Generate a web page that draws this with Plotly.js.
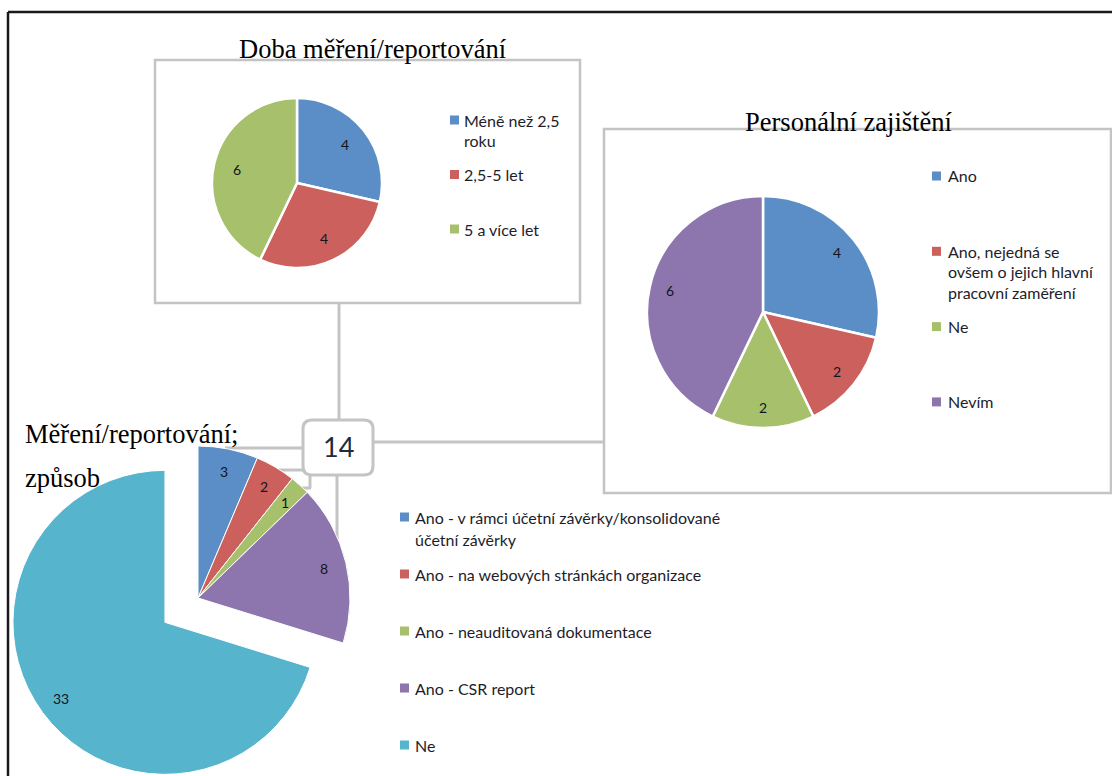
<!DOCTYPE html>
<html>
<head>
<meta charset="utf-8">
<script src="https://cdn.plot.ly/plotly-3.0.1.min.js"></script>
<style>
  html, body { margin: 0; padding: 0; background: #ffffff; overflow: hidden; }
  #chart { width: 1112px; height: 800px; }
</style>
</head>
<body>
<div id="chart"></div>
<script>
// Doba měření/reportování
const durationLabels = ['Méně než 2,5<br>roku', '2,5-5 let', '5 a více let'];
const durationValues = [4, 4, 6];

// Personální zajištění
const staffLabels = ['Ano', 'Ano, nejedná se<br>ovšem o jejich hlavní<br>pracovní zaměření', 'Ne', 'Nevím'];
const staffValues = [4, 2, 2, 6];

// Měření/reportování; způsob
const methodLabels = [
  'Ano - v rámci účetní závěrky/konsolidované<br>účetní závěrky',
  'Ano - na webových stránkách organizace',
  'Ano - neauditovaná dokumentace',
  'Ano - CSR report',
  'Ne'
];
const methodValues = [3, 2, 1, 8, 33];
const methodPull = [0, 0, 0, 0, 0.27];

const titles = ['Doba měření/reportování', 'Personální zajištění', 'Měření/reportování;', 'způsob'];

const palette = ['#5B8EC6', '#CB605C', '#A7C06B', '#8D76AD', '#56B4CD'];
const staffPalette = ['#5B8EC6', '#CB605C', '#A7C06B', '#8D76AD'];

const W = 1112, H = 800;
const px = x => x / W;
const py = y => 1 - y / H;

const serif = 'Liberation Serif, Times New Roman, serif';
const sans = 'Lato, Carlito, Calibri, sans-serif';
const ink = '#1d1d2b';
const frameGray = '#c4c4c4';

// Pie geometry (pixel centre and radius); domains derive from these
const pies = [
  { labels: durationLabels, values: durationValues, colors: palette.slice(0, 3), cx: 297, cy: 183, r: 85, labelR: 0.72, line: 2.5, pull: null },
  { labels: staffLabels, values: staffValues, colors: staffPalette, cx: 763, cy: 312, r: 116, labelR: 0.82, line: 2.5, pull: null },
  { labels: methodLabels, values: methodValues, colors: palette, cx: 198, cy: 598, r: 152, labelR: 0.85, line: 1, pull: methodPull }
];

const traces = [];
const annotations = [];
const shapes = [];

pies.forEach(p => {
  const maxPull = p.pull ? Math.max(...p.pull) : 0;
  const half = p.r * (1 + maxPull);
  traces.push({
    type: 'pie',
    labels: p.labels,
    values: p.values,
    sort: false,
    direction: 'clockwise',
    rotation: 0,
    pull: p.pull || 0,
    textinfo: 'none',
    hoverinfo: 'none',
    showlegend: false,
    marker: { colors: p.colors, line: { color: '#ffffff', width: p.line } },
    domain: { x: [px(p.cx - half), px(p.cx + half)], y: [py(p.cy + half), py(p.cy - half)] }
  });

  // value labels along each slice's mid-angle
  const total = p.values.reduce((a, b) => a + b, 0);
  let acc = 0;
  p.values.forEach((v, i) => {
    const mid = (acc + v / 2) / total * 2 * Math.PI;
    acc += v;
    const pull = p.pull ? p.pull[i] : 0;
    const ox = p.cx + pull * p.r * Math.sin(mid);
    const oy = p.cy - pull * p.r * Math.cos(mid);
    annotations.push({
      xref: 'paper', yref: 'paper',
      x: px(ox + p.labelR * p.r * Math.sin(mid)),
      y: py(oy - p.labelR * p.r * Math.cos(mid)),
      text: String(v), showarrow: false,
      xanchor: 'center', yanchor: 'middle',
      font: { family: sans, size: 14, color: '#141420' }
    });
  });
});

// Legends drawn as marker squares and text lines
const legends = [
  { labels: durationLabels, colors: palette, mx: 450, tx: 462, y0: 120, pitch: 54.5, lh: 20 },
  { labels: staffLabels, colors: staffPalette, mx: 932, tx: 946, y0: 176, pitch: 75.3, lh: 20.5 },
  { labels: methodLabels, colors: palette, mx: 400, tx: 413, y0: 517, pitch: 57, lh: 22 }
];
legends.forEach(lg => {
  lg.labels.forEach((lab, i) => {
    const y = lg.y0 + i * lg.pitch;
    shapes.push({
      type: 'rect', xref: 'paper', yref: 'paper', layer: 'above',
      x0: px(lg.mx), x1: px(lg.mx + 9), y0: py(y + 4.5), y1: py(y - 4.5),
      fillcolor: lg.colors[i], line: { width: 0 }
    });
    lab.split('<br>').forEach((ln, j) => {
      annotations.push({
        xref: 'paper', yref: 'paper',
        x: px(lg.tx), y: py(y + j * lg.lh),
        text: ln, showarrow: false, xanchor: 'left', yanchor: 'middle',
        font: { family: sans, size: 16, color: ink }
      });
    });
  });
});

// Chart titles
const titleSpecs = [
  { x: 373, y: 49, anchor: 'center' },
  { x: 848, y: 122, anchor: 'center' },
  { x: 23, y: 434, anchor: 'left' },
  { x: 23, y: 478, anchor: 'left' }
];
titleSpecs.forEach((t, i) => {
  annotations.push({
    xref: 'paper', yref: 'paper', x: px(t.x), y: py(t.y),
    text: titles[i], showarrow: false, xanchor: t.anchor, yanchor: 'middle',
    font: { family: serif, size: 26.5, color: '#000000' }
  });
});

// Frames and connectors
const seg = (x0, y0, x1, y1, color, width) => ({
  type: 'line', xref: 'paper', yref: 'paper', layer: 'below',
  x0: px(x0), y0: py(y0), x1: px(x1), y1: py(y1),
  line: { color: color, width: width }
});
const rect = (x0, y0, x1, y1) => ({
  type: 'rect', xref: 'paper', yref: 'paper', layer: 'below',
  x0: px(x0), y0: py(y1), x1: px(x1), y1: py(y0),
  line: { color: frameGray, width: 2.5 }, fillcolor: 'rgba(0,0,0,0)'
});

shapes.unshift(
  seg(8, 12, 1112, 12, '#1a1a1a', 2.5),
  seg(8, 12, 8, 800, '#1a1a1a', 2.5),
  rect(155, 60, 580, 303),
  rect(604, 129, 1111, 493),
  seg(339, 303, 339, 421, frameGray, 3),
  seg(372, 442, 604, 442, frameGray, 3),
  seg(304, 448, 225, 448, frameGray, 3),
  seg(304, 470, 270, 470, frameGray, 3),
  seg(310, 474, 310, 488, frameGray, 3),
  seg(311, 488, 290, 488, frameGray, 3),
  seg(337, 474, 337, 545, frameGray, 3)
);

// rounded total box
(function () {
  const x0 = 303, y0 = 420, x1 = 373, y1 = 475, rr = 9;
  const X = v => px(v), Y = v => py(v);
  const d = `M ${X(x0 + rr)} ${Y(y0)} L ${X(x1 - rr)} ${Y(y0)} Q ${X(x1)} ${Y(y0)} ${X(x1)} ${Y(y0 + rr)} ` +
            `L ${X(x1)} ${Y(y1 - rr)} Q ${X(x1)} ${Y(y1)} ${X(x1 - rr)} ${Y(y1)} ` +
            `L ${X(x0 + rr)} ${Y(y1)} Q ${X(x0)} ${Y(y1)} ${X(x0)} ${Y(y1 - rr)} ` +
            `L ${X(x0)} ${Y(y0 + rr)} Q ${X(x0)} ${Y(y0)} ${X(x0 + rr)} ${Y(y0)} Z`;
  shapes.splice(11, 0, {
    type: 'path', xref: 'paper', yref: 'paper', layer: 'below', path: d,
    fillcolor: '#ffffff', line: { color: frameGray, width: 3 }
  });
})();

const respondents = durationValues.reduce((a, b) => a + b, 0);
annotations.push({
  xref: 'paper', yref: 'paper', x: px(338), y: py(446),
  text: String(respondents), showarrow: false, xanchor: 'center', yanchor: 'middle',
  font: { family: sans, size: 27, color: '#1f2a3a' }
});

Plotly.newPlot('chart', traces, {
  width: W, height: H,
  margin: { l: 0, r: 0, t: 0, b: 0 },
  paper_bgcolor: '#ffffff',
  showlegend: false,
  shapes: shapes,
  annotations: annotations
}, { staticPlot: true });
</script>
</body>
</html>
